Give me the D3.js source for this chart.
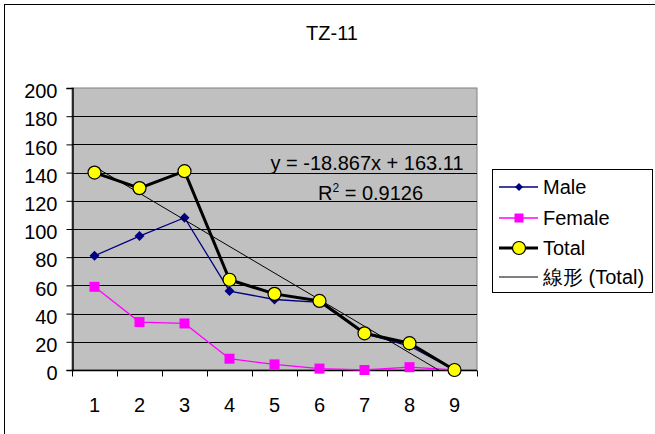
<!DOCTYPE html>
<html><head><meta charset="utf-8">
<script src="https://cdn.jsdelivr.net/npm/d3@7"></script>
<style>body{margin:0;background:#fff}svg{display:block;font-family:"Liberation Sans",Arial,sans-serif}</style>
</head><body>
<svg id="c" width="655" height="434"></svg>
<script>
const categories = [1,2,3,4,5,6,7,8,9];
const male   = [81,95,108,56,50,48,26,17,0];
const female = [59,34,33,8,4,1,0,2,0];
const total  = [140,129,141,64,54,49,26,19,0];
const yTicks = [0,20,40,60,80,100,120,140,160,180,200];
const trendSlope = -18.867, trendIntercept = 163.11;
const title = "TZ-11";
const eqText = "y = -18.867x + 163.11";
const r2Text = "0.9126";
const legendNames = ["Male","Female","Total","線形 (Total)"];

const FS = 20;
const svg = d3.select("#c");
const L=72, R=477, T=88, B=370;
const x = d3.scaleBand().domain(categories).range([L,R]);
const xc = d => x(d) + x.bandwidth()/2;
const y = d3.scaleLinear().domain([0,200]).range([B,T]);

// outer frame
svg.append("rect").attr("x",4.5).attr("y",4.5).attr("width",700).attr("height",500)
  .attr("fill","#fff").attr("stroke","#000").attr("stroke-width",1);

svg.append("text").attr("x",332).attr("y",40).attr("text-anchor","middle")
  .attr("font-size",FS).text(title);

// plot area
svg.append("rect").attr("x",L).attr("y",T).attr("width",R-L).attr("height",B-T)
  .attr("fill","#c0c0c0").attr("stroke","#808080");

// gridlines
svg.append("g").selectAll("line").data(yTicks.filter(v=>v>0&&v<200)).join("line")
  .attr("x1",L).attr("x2",R).attr("y1",d=>Math.round(y(d))+0.5).attr("y2",d=>Math.round(y(d))+0.5)
  .attr("stroke","#000").attr("stroke-width",1);

// y axis
const yAxis = d3.axisLeft(y).tickValues(yTicks).tickSize(6).tickPadding(9);
const gy = svg.append("g").attr("transform",`translate(${L+0.5},0)`).call(yAxis);
gy.selectAll("text").attr("font-size",FS).attr("fill","#000").attr("dy","0.48em")
  .attr("font-family","Liberation Sans, Arial, sans-serif");
gy.select(".domain").attr("stroke","#000").attr("stroke-width",1.5);
gy.selectAll(".tick line").attr("stroke","#000");

// x axis
const gx = svg.append("g").attr("transform",`translate(0,${B+0.5})`);
gx.append("line").attr("x1",L).attr("x2",R).attr("stroke","#000").attr("stroke-width",1.5);
const bounds = categories.map(d=>x(d)).concat([R]);
gx.selectAll("line.t").data(bounds).join("line").attr("class","t")
  .attr("x1",d=>Math.round(d)+0.5).attr("x2",d=>Math.round(d)+0.5).attr("y1",0).attr("y2",6).attr("stroke","#000");
gx.selectAll("text").data(categories).join("text")
  .attr("x",d=>xc(d)).attr("y",41).attr("text-anchor","middle").attr("font-size",FS).text(d=>d);

// clip for trendline
svg.append("clipPath").attr("id","pc").append("rect").attr("x",L).attr("y",T).attr("width",R-L).attr("height",B-T);

const line = d3.line().x((d,i)=>xc(categories[i])).y(d=>y(d));

// female
svg.append("path").datum(female).attr("d",line).attr("fill","none").attr("stroke","#ff00ff").attr("stroke-width",1.3);
svg.append("g").selectAll("rect").data(female).join("rect")
  .attr("x",(d,i)=>xc(categories[i])-5).attr("y",d=>y(d)-5).attr("width",10).attr("height",10).attr("fill","#ff00ff");

// male
svg.append("path").datum(male).attr("d",line).attr("fill","none").attr("stroke","#000080").attr("stroke-width",1.3);
svg.append("g").selectAll("path").data(male).join("path")
  .attr("d","M0,-5L5,0L0,5L-5,0Z").attr("transform",(d,i)=>`translate(${xc(categories[i])},${y(d)})`).attr("fill","#000080");

// trendline
svg.append("line").attr("clip-path","url(#pc)")
  .attr("x1",xc(categories[0])).attr("y1",y(trendSlope*categories[0]+trendIntercept))
  .attr("x2",xc(categories[8])).attr("y2",y(trendSlope*categories[8]+trendIntercept))
  .attr("stroke","#000").attr("stroke-width",1);

// total
svg.append("path").datum(total).attr("d",line).attr("fill","none").attr("stroke","#000").attr("stroke-width",3);
svg.append("g").selectAll("circle").data(total).join("circle")
  .attr("cx",(d,i)=>xc(categories[i])).attr("cy",d=>y(d)).attr("r",6.5)
  .attr("fill","#ffff00").attr("stroke","#000").attr("stroke-width",1.2);

// equation
svg.append("text").attr("x",367).attr("y",170).attr("text-anchor","middle").attr("font-size",FS).text(eqText);
const r2 = svg.append("text").attr("x",318).attr("y",200).attr("font-size",FS);
r2.append("tspan").text("R");
r2.append("tspan").attr("font-size",12).attr("dy",-8).text("2");
r2.append("tspan").attr("dy",8).text(" = "+r2Text);

// legend
const lg = svg.append("g");
lg.append("rect").attr("x",492.5).attr("y",169.5).attr("width",160).attr("height",123).attr("fill","#fff").attr("stroke","#000");
const ly = [187,218,248,277];
const ls = [{c:"#000080",w:1.3},{c:"#ff00ff",w:1.3},{c:"#000",w:3},{c:"#000",w:1}];
legendNames.forEach((n,i)=>{
  lg.append("line").attr("x1",499).attr("x2",538).attr("y1",ly[i]).attr("y2",ly[i]).attr("stroke",ls[i].c).attr("stroke-width",ls[i].w);
  lg.append("text").attr("x",543).attr("y",ly[i]+7).attr("font-size",FS).text(n);
});
lg.append("path").attr("d","M0,-4L4,0L0,4L-4,0Z").attr("transform",`translate(519,${ly[0]})`).attr("fill","#000080");
lg.append("rect").attr("x",514.5).attr("y",ly[1]-4.5).attr("width",9).attr("height",9).attr("fill","#ff00ff");
lg.append("circle").attr("cx",519).attr("cy",ly[2]).attr("r",6.5).attr("fill","#ffff00").attr("stroke","#000").attr("stroke-width",1.2);
</script>
</body></html>
